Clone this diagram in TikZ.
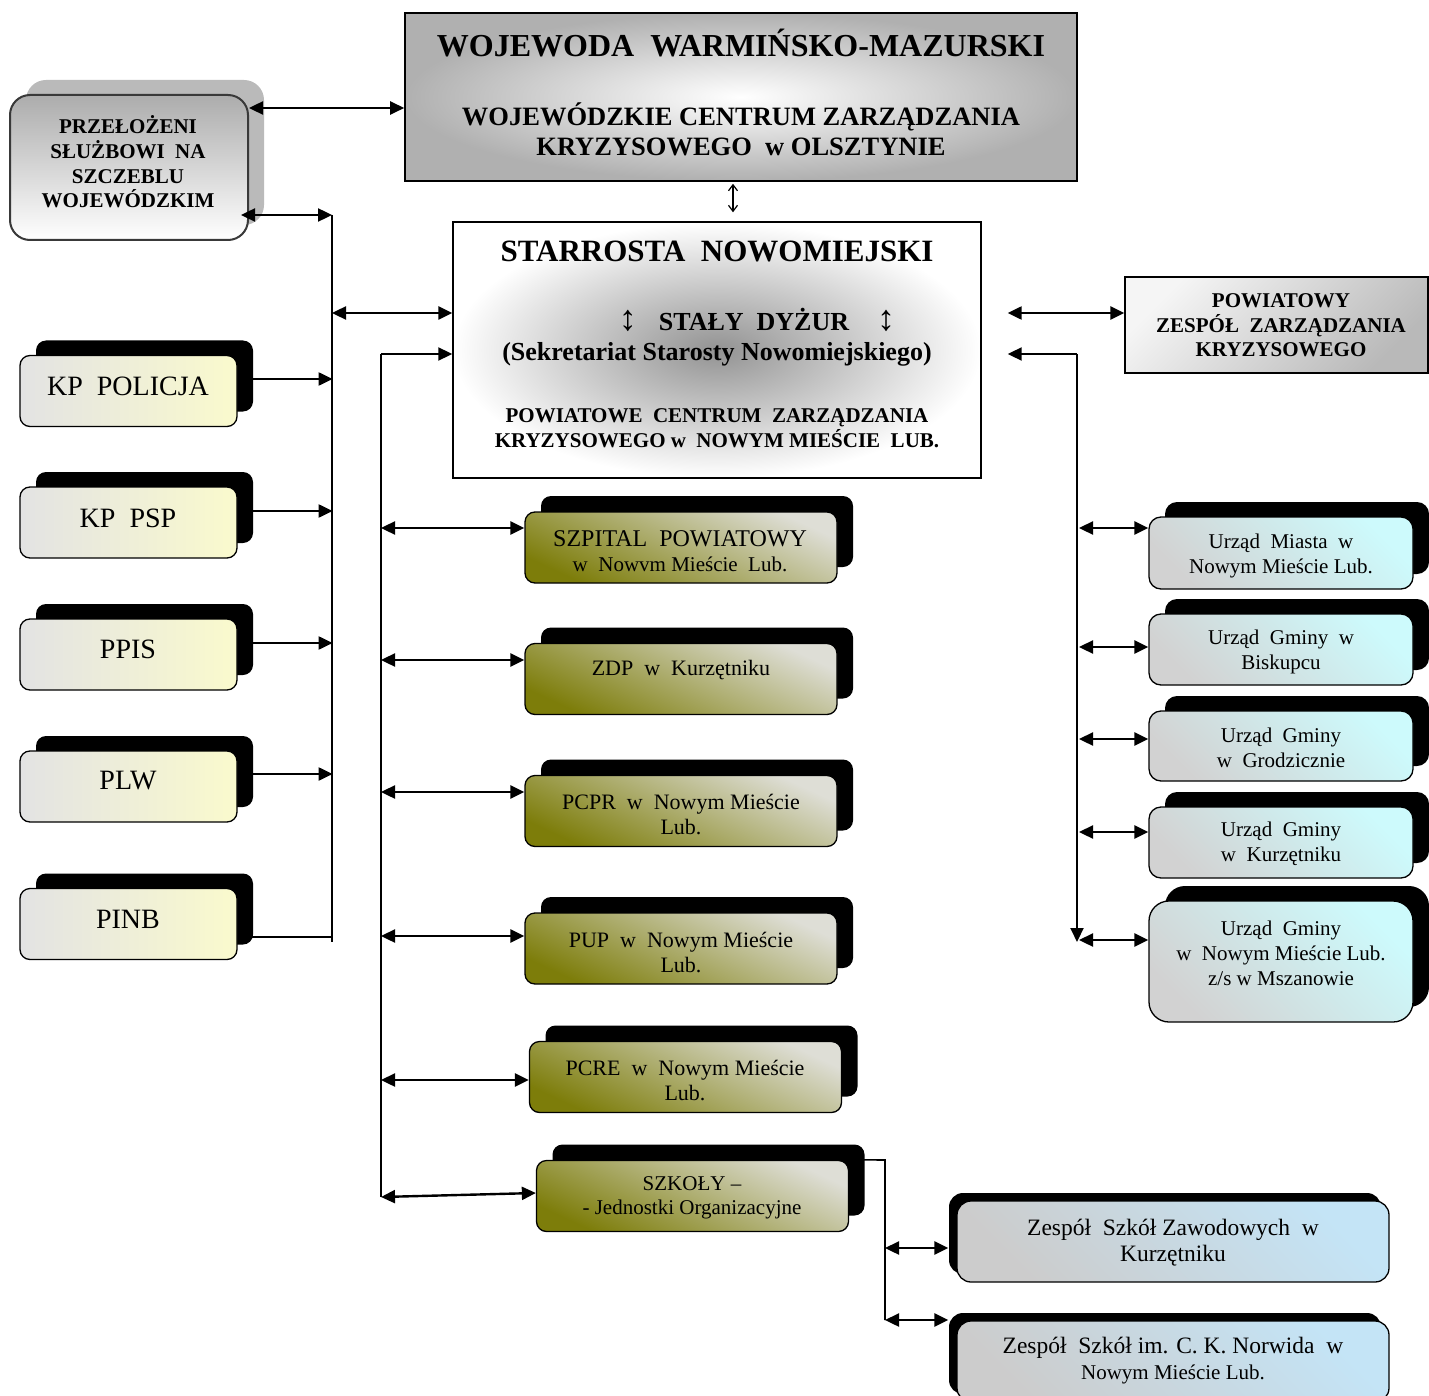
\documentclass[tikz,border=0pt]{standalone}
\usepackage{fontspec}
\setmainfont{Liberation Serif}
\usetikzlibrary{shadows,arrows.meta}
\newcommand\fz[2]{\fontsize{#1}{#2}\selectfont}
\definecolor{yel}{RGB}{250,250,205}
\definecolor{oliv}{RGB}{125,125,10}
\definecolor{lgr}{RGB}{222,222,214}
\definecolor{cyn}{RGB}{205,250,252}
\definecolor{lblu}{RGB}{196,228,246}
\begin{document}
\begin{tikzpicture}[x=1pt,y=-1pt,
  base/.style={draw, line width=1.3pt},
  lbox/.style={base, rounded corners=10pt, minimum width=217pt, minimum height=71pt,
    left color=gray!22, right color=yel,
    general shadow={fill=black, shadow xshift=16pt, shadow yshift=15pt}},
  mbox/.style={base, rounded corners=10pt, minimum width=312pt, minimum height=71pt,
    top color=lgr, middle color=lgr!70!oliv, bottom color=oliv, shading angle=-25,
    general shadow={fill=black, shadow xshift=16pt, shadow yshift=16pt}},
  rbox/.style={base, rounded corners=12pt, minimum width=264pt,
    top color=cyn, middle color=gray!22, bottom color=gray!35, shading angle=-45,
    general shadow={fill=black, shadow xshift=16pt, shadow yshift=15pt}},
  zbox/.style={base, rounded corners=14pt, minimum width=432pt, minimum height=81pt,
    top color=lblu, middle color=lblu!75!gray, bottom color=gray!40, shading angle=-45,
    general shadow={fill=black, shadow xshift=-8pt, shadow yshift=8pt}},
  txt/.style={align=center, inner sep=0pt},
  ltxt/.style={txt, font=\fz{28}{30}},
  mtxt/.style={txt, font=\fz{22}{25.5}},
  rtxt/.style={txt, font=\fz{21}{25}},
  ztxt/.style={txt, font=\fz{23.5}{26}},
  arr/.style={-{Triangle[length=14pt,width=13pt]}, line width=2pt},
  dbl/.style={{Triangle[length=14pt,width=13pt]}-{Triangle[length=14pt,width=13pt]}, line width=2.4pt},
  bus/.style={line width=2pt},
  small/.style={{Straight Barb[length=6pt,width=9pt]}-{Straight Barb[length=6pt,width=9pt]}, line width=1.2pt}
]
\useasboundingbox (0,0) rectangle (1429,1396);

% ---------- top box
\node[base, line width=1.6pt, minimum width=672pt, minimum height=168pt,
      inner color=white, outer color=gray!62] (woj) at (741,97) {};
\node[txt, font=\fz{32}{34}\bfseries] (wojA) at (741,43) {WOJEWODA~ WARMIŃSKO-MAZURSKI};
\node[txt, font=\fz{26.5}{30}\bfseries] (wojB) at (741,129) {WOJEWÓDZKIE CENTRUM ZARZĄDZANIA\\KRYZYSOWEGO~ w OLSZTYNIE};

% ---------- przelozeni
\node[draw=gray!45!black, line width=2pt, rounded corners=20pt, minimum width=238pt, minimum height=145pt,
      top color=gray!65, bottom color=white,
      general shadow={fill=black!27, shadow xshift=16pt, shadow yshift=15pt}] (prz) at (129,167.5) {};
\node[txt, font=\fz{21}{24.7}\bfseries] (przT) at (128,162) {PRZEŁOŻENI\\SŁUŻBOWI~ NA\\SZCZEBLU\\WOJEWÓDZKIM};

% ---------- center box
\node[draw, line width=1.4pt, minimum width=528pt, minimum height=256pt,
      inner color=gray!85, outer color=white] (star) at (717,350) {};
\node[txt, font=\fz{31}{33}\bfseries] (starA) at (717,251) {STARROSTA~ NOWOMIEJSKI};
\node[txt, font=\fz{26}{28}\bfseries] (starB) at (757,320) {{\mdseries\fz{36}{36}↕}\hspace{22pt}STAŁY~ DYŻUR\hspace{28pt}{\mdseries\fz{36}{36}↕}};
\node[txt, font=\fz{26}{28}\bfseries] (starC) at (717,354) {(Sekretariat Starosty Nowomiejskiego)};
\node[txt, font=\fz{21}{25}\bfseries] (starD) at (717,428.5) {POWIATOWE~ CENTRUM~ ZARZĄDZANIA\\KRYZYSOWEGO w~ NOWYM MIEŚCIE~ LUB.};

% ---------- powiatowy zespol
\node[base, line width=1.4pt, minimum width=303pt, minimum height=96pt,
      top color=gray!8, bottom color=gray!55, shading angle=45] (pzk) at (1276.5,325) {};
\node[txt, font=\fz{21}{24.5}\bfseries] (pzkT) at (1281,325.5) {POWIATOWY\\ZESPÓŁ~ ZARZĄDZANIA\\KRYZYSOWEGO};

% ---------- left column
\node[lbox] (kpp) at (128.5,391) {};
\node[ltxt] (kppT) at (128,386) {KP~ POLICJA};
\node[lbox] (kpsp) at (128.5,522.5) {};
\node[ltxt] (kpspT) at (128,518) {KP~ PSP};
\node[lbox] (ppis) at (128.5,654.5) {};
\node[ltxt] (ppisT) at (128,649) {PPIS};
\node[lbox] (plw) at (128.5,786.5) {};
\node[ltxt] (plwT) at (128,781) {PLW};
\node[lbox] (pinb) at (128.5,924) {};
\node[ltxt] (pinbT) at (128,919) {PINB};

% ---------- middle column
\node[mbox] (szp) at (681,547.5) {};
\node[mtxt] (szpT) at (680,551) {{\fz{24}{25.5}SZPITAL~ POWIATOWY}\\{\fz{21}{25.5}w~ Nowvm Mieście~ Lub.}};
\node[mbox] (zdp) at (681,679) {};
\node[mtxt] (zdpT) at (681,670) {ZDP~ w~ Kurzętniku};
\node[mbox] (pcpr) at (681,811) {};
\node[mtxt] (pcprT) at (681,814.5) {PCPR~ w~ Nowym Mieście\\Lub.};
\node[mbox] (pup) at (681,948.5) {};
\node[mtxt] (pupT) at (681,952.5) {PUP~ w~ Nowym Mieście\\Lub.};
\node[mbox] (pcre) at (685.5,1077) {};
\node[mtxt] (pcreT) at (685,1080.5) {PCRE~ w~ Nowym Mieście\\Lub.};
\node[mbox] (szk) at (692.5,1196) {};
\node[mtxt, font=\fz{21}{24.5}] (szkT) at (692,1198) {SZKOŁY –\\- Jednostki Organizacyjne};

% ---------- right column
\node[rbox, minimum height=72pt] (um) at (1281,553) {};
\node[rtxt] (umT) at (1281,555.5) {Urząd~ Miasta~ w\\Nowym Mieście Lub.};
\node[rbox, minimum height=71pt] (bisk) at (1281,649.5) {};
\node[rtxt] (biskT) at (1281,651.5) {Urząd~ Gminy~ w\\Biskupcu};
\node[rbox, minimum height=70pt] (grod) at (1281,746) {};
\node[rtxt] (grodT) at (1281,747.5) {Urząd~ Gminy\\w~ Grodzicznie};
\node[rbox, minimum height=71pt] (kurz) at (1281,842.5) {};
\node[rtxt] (kurzT) at (1281,843.5) {Urząd~ Gminy\\w~ Kurzętniku};
\node[rbox, minimum height=121pt, rounded corners=20pt] (msz) at (1281,961.5) {};
\node[rtxt] (mszT) at (1281,953) {Urząd~ Gminy\\w~ Nowym Mieście Lub.\\z/s w Mszanowie};

% ---------- schools
\node[zbox] (zsz) at (1173,1241.5) {};
\node[ztxt] (zszT) at (1173,1243) {Zespół~ Szkół Zawodowych~ w\\Kurzętniku};
\node[zbox] (norw) at (1173,1361.5) {};
\node[ztxt, font=\fz{23.5}{26}] (norwT) at (1173,1361) {Zespół~ Szkół im. C. K. Norwida~ w\\{\fz{21}{26}Nowym Mieście Lub.}};

% ---------- coordinates of buses
\coordinate (lbT) at (332,215);
\coordinate (lbB) at (332,942);
\coordinate (ibT) at (381,354);
\coordinate (ibB) at (381,1197);
\coordinate (rbT) at (1077,354);
\coordinate (rbB) at (1077,942);
\coordinate (sbT) at (885,1160);
\coordinate (sbB) at (885,1320);

% ---------- connectors, top
\draw[dbl] (prz.east |- 0,108) -- (woj.west |- 0,108);
\draw[small] ([xshift=-8pt,yshift=-2pt]woj.south) -- ([xshift=16pt,yshift=9pt]star.north);

% left bus
\draw[bus] (lbT) -- (lbB);
\draw[dbl] ([xshift=-8pt]prz.east |- lbT) -- (lbT);
\draw[dbl] (lbT |- 0,313) -- (star.west |- 0,313);
\draw[arr] ([xshift=15pt,yshift=12pt]kpp.east) -- ++(80,0);
\draw[arr] ([xshift=15pt,yshift=11.5pt]kpsp.east) -- ++(80,0);
\draw[arr] ([xshift=15pt,yshift=11.5pt]ppis.east) -- ++(80,0);
\draw[arr] ([xshift=15pt,yshift=12.5pt]plw.east) -- ++(80,0);
\draw[bus] ([xshift=8pt,yshift=-13pt]pinb.east) -- ++(87,0);

% inner bus
\draw[bus] (ibT) -- (ibB);
\draw[arr] (ibT) -- (star.west |- ibT);
\draw[dbl] (ibT |- 0,528) -- (szp.west |- 0,528);
\draw[dbl] (ibT |- 0,660) -- (zdp.west |- 0,660);
\draw[dbl] (ibT |- 0,792) -- (pcpr.west |- 0,792);
\draw[dbl] (ibT |- 0,936) -- (pup.west |- 0,936);
\draw[dbl] (ibT |- 0,1080) -- (pcre.west |- 0,1080);
\draw[dbl] (ibB) -- (szk.west |- 0,1193);

% right side
\draw[dbl, shorten <=26pt] (star.east |- 0,313) -- (pzk.west |- 0,313);
\draw[arr, shorten >=26pt] (rbT) -- (star.east |- rbT);
\draw[arr] (rbT) -- (rbB);
\draw[dbl] ([xshift=2pt]rbT |- 0,528) -- (um.west |- 0,528);
\draw[dbl] ([xshift=2pt]rbT |- 0,647) -- (bisk.west |- 0,647);
\draw[dbl] ([xshift=2pt]rbT |- 0,739) -- (grod.west |- 0,739);
\draw[dbl] ([xshift=2pt]rbT |- 0,832) -- (kurz.west |- 0,832);
\draw[dbl] ([xshift=2pt]rbT |- 0,940) -- (msz.west |- 0,940);

% schools
\draw[line width=1.6pt] ([xshift=15pt]szk.north east) -- (sbT) -- (sbB);
\draw[dbl, shorten >=8pt] (sbT |- 0,1248) -- (zsz.west |- 0,1248);
\draw[dbl, shorten >=8pt] (sbB) -- (norw.west |- sbB);
\end{tikzpicture}
\end{document}
